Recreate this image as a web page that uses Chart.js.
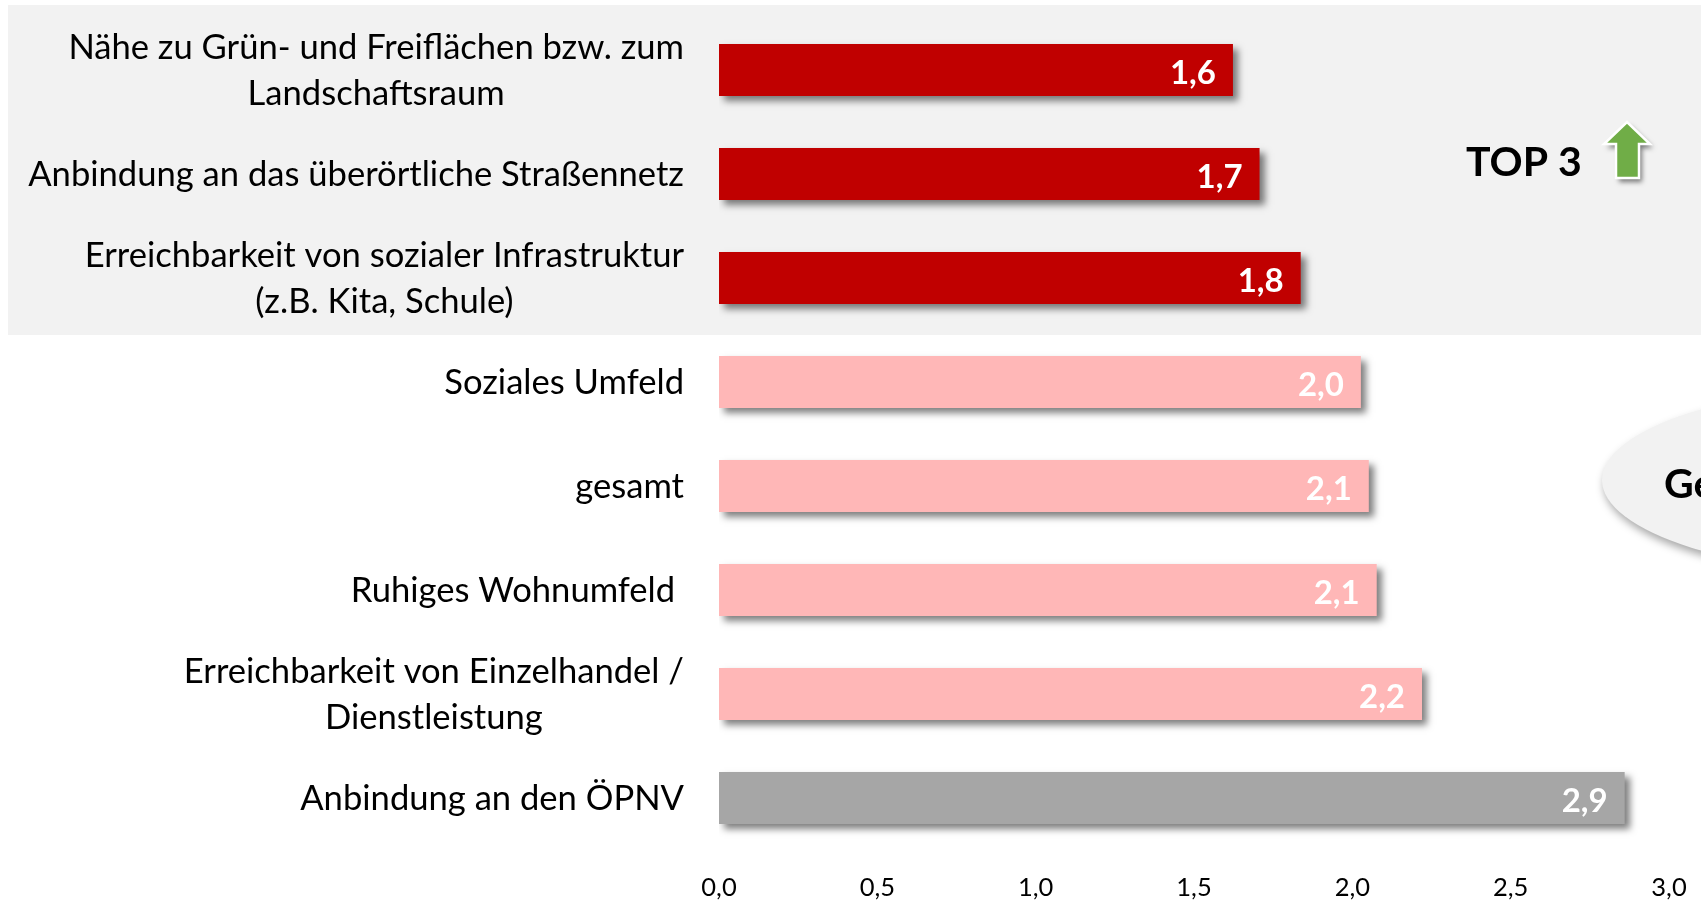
<!DOCTYPE html>
<html>
<head>
<meta charset="utf-8">
<style>
html,body{margin:0;padding:0;background:#fff;overflow:hidden;}
canvas{display:block;}
</style>
<script src="https://cdn.jsdelivr.net/npm/chart.js@4"></script>
</head>
<body>
<canvas id="chart" width="1701" height="902"></canvas>
<script>
const categories=[
  ["Nähe zu Grün- und Freiflächen bzw. zum","Landschaftsraum"],
  ["Anbindung an das überörtliche Straßennetz"],
  ["Erreichbarkeit von sozialer Infrastruktur","(z.B. Kita, Schule)"],
  ["Soziales Umfeld"],
  ["gesamt"],
  ["Ruhiges Wohnumfeld "],
  ["Erreichbarkeit von Einzelhandel /","Dienstleistung"],
  ["Anbindung an den ÖPNV"]
];
const values=[1.623,1.707,1.837,2.027,2.052,2.077,2.22,2.86];
const barColors=["#c00000","#c00000","#c00000","#ffb7b7","#ffb7b7","#ffb7b7","#ffb7b7","#a6a6a6"];
const FONT="Lato";

/* hintergrund */
const backdrop={
  id:"backdrop",
  beforeDatasetsDraw(c){
    const x=c.ctx;
    x.save();
    x.fillStyle="#f2f2f2";
    x.fillRect(8,5,1693,330);
    x.shadowColor="rgba(0,0,0,.35)";
    x.shadowBlur=8;
    x.shadowOffsetX=2;
    x.shadowOffsetY=5;
    x.beginPath();
    x.ellipse(1902,480,300,95,0,0,Math.PI*2);
    x.fill();
    x.restore();
  }
};

/* schatten der balken */
const barShadow={
  id:"barShadow",
  beforeDatasetDraw(c){
    const x=c.ctx;
    x.save();
    x.shadowColor="rgba(0,0,0,.5)";
    x.shadowBlur=7;
    x.shadowOffsetX=5;
    x.shadowOffsetY=5;
  },
  afterDatasetDraw(c){ c.ctx.restore(); }
};

/* beschriftung links, zeilen zentriert */
const catLabels={
  id:"catLabels",
  afterDraw(c){
    const x=c.ctx,sc=c.scales.y,lh=45.5,right=684;
    x.save();
    x.font="34.6px "+FONT;
    x.fillStyle="#000";
    x.textBaseline="middle";
    x.textAlign="center";
    categories.forEach((lines,i)=>{
      const w=Math.max(...lines.map(l=>x.measureText(l).width));
      const y=sc.getPixelForValue(i)-(lines.length-1)*lh/2+1;
      lines.forEach((l,j)=>x.fillText(l,right-w/2,y+j*lh));
    });
    x.restore();
  }
};

/* werte in den balken */
const valueLabels={
  id:"valueLabels",
  afterDatasetsDraw(c){
    const x=c.ctx;
    x.save();
    x.font="bold 33px "+FONT;
    x.fillStyle="#fff";
    x.textAlign="right";
    x.textBaseline="middle";
    c.getDatasetMeta(0).data.forEach((b,i)=>{
      x.fillText(values[i].toFixed(1).replace(".",","),b.x-17,b.y+3);
    });
    x.restore();
  }
};

/* TOP 3, pfeil, ellipsentext */
const extras={
  id:"extras",
  afterDraw(c){
    const x=c.ctx;
    x.save();
    x.font="bold 41px "+FONT;
    x.fillStyle="#000";
    x.textBaseline="alphabetic";
    x.fillText("TOP 3",1466,176);
    x.fillText("Ge",1664,498);
    x.shadowColor="rgba(0,0,0,.5)";
    x.shadowBlur=5;
    x.shadowOffsetX=3;
    x.shadowOffsetY=4;
    x.beginPath();
    x.moveTo(1627,122);
    x.lineTo(1650,144);
    x.lineTo(1639,144);
    x.lineTo(1639,178);
    x.lineTo(1616,178);
    x.lineTo(1616,144);
    x.lineTo(1604,144);
    x.closePath();
    x.fillStyle="#70ad47";
    x.strokeStyle="#fff";
    x.lineWidth=2.5;
    x.lineJoin="miter";
    x.fill();
    x.shadowColor="transparent";
    x.stroke();
    x.restore();
  }
};

new Chart(document.getElementById("chart"),{
  type:"bar",
  data:{
    labels:categories.map(l=>l.join(" ")),
    datasets:[{data:values,backgroundColor:barColors,categoryPercentage:.5,barPercentage:1}]
  },
  options:{
    indexAxis:"y",
    responsive:false,
    animation:false,
    layout:{padding:{top:18,right:32,left:0,bottom:0}},
    plugins:{legend:{display:false},tooltip:{enabled:false},title:{display:false}},
    scales:{
      x:{
        min:0,max:3,
        grid:{display:false},
        border:{display:false},
        afterFit(s){s.height=52;},
        ticks:{
          stepSize:.5,
          maxRotation:0,
          padding:14,
          color:"#000",
          font:{family:FONT,size:25.5},
          callback:v=>v.toFixed(1).replace(".",",")
        }
      },
      y:{
        grid:{display:false},
        border:{display:false},
        ticks:{display:false},
        afterFit(s){s.width=719;}
      }
    }
  },
  plugins:[backdrop,barShadow,valueLabels,catLabels,extras]
});
</script>
</body>
</html>
